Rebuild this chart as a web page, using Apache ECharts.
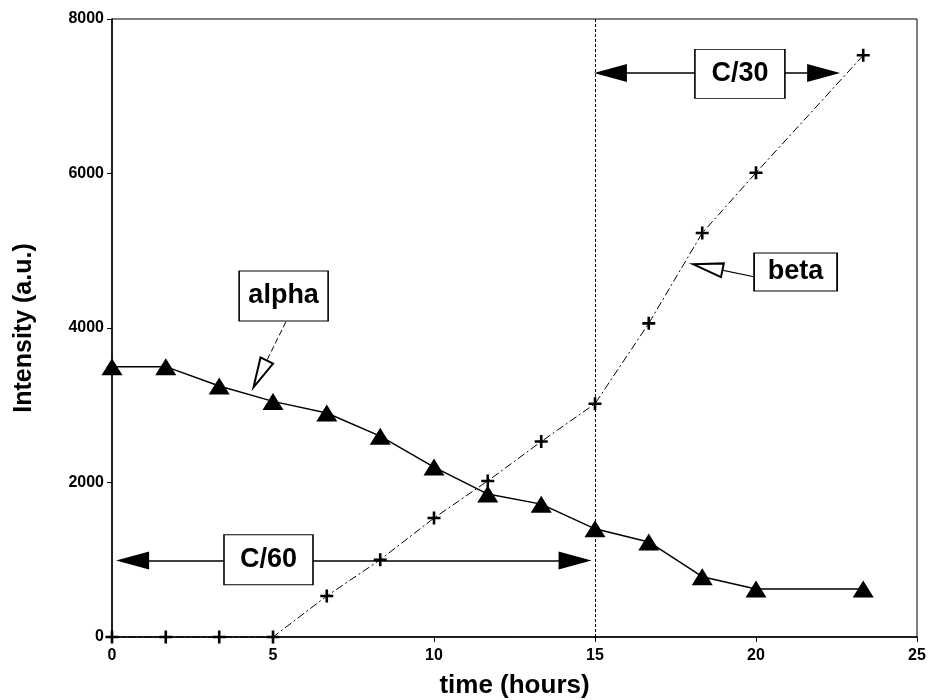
<!DOCTYPE html>
<html>
<head>
<meta charset="utf-8">
<script src="https://cdn.jsdelivr.net/npm/echarts@6/dist/echarts.min.js"></script>
<style>
  html, body { margin: 0; padding: 0; background: #fff; }
  #chart { width: 930px; height: 700px; }
</style>
</head>
<body>
<div id="chart"></div>
<script>
// time axis (hours), one sample every 1/0.6 h
var times = [0, 1.67, 3.33, 5, 6.67, 8.33, 10, 11.67, 13.33, 15, 16.67, 18.33, 20, 23.33]
var alphaVals = [3500, 3500, 3250, 3050, 2900, 2600, 2200, 1850, 1720, 1400, 1230, 780, 620, 620]
var betaVals = [0, 0, 0, 0, 530, 1000, 1540, 2020, 2530, 3020, 4060, 5230, 6010, 7530]

var xTicks = [0, 5, 10, 15, 20, 25]
var yTicks = [0, 2000, 4000, 6000, 8000]
var switchTime = 15 // rate change C/60 -> C/30

// annotation boxes: [x, y, label]
var boxes = [
  [4.86, 1000, 'C/60'],
  [19.5, 7290, 'C/30'],
  [5.33, 4414, 'alpha'],
  [21.23, 4725, 'beta']
]
var boxSizes = [[89, 50], [90, 49], [89, 50], [83, 38]]

// double arrows (rate ranges): [x1, y1, x2, y2]
var rateArrows = [
  [0.64, 990, 14.38, 990],
  [15.48, 7300, 22.1, 7300]
]
// callout arrows from label box to curve: [x1, y1, x2, y2]
var calloutAlpha = [5.40, 4078, 4.60, 3405]
var calloutBeta = [19.97, 4660, 18.50, 4787]

var font = '"Liberation Sans", Arial, sans-serif'

function pairs (xs, ys) {
  return xs.map(function (x, i) { return [x, ys[i]] })
}

var chart = echarts.init(document.getElementById('chart'))
var option = {
  animation: false,
  textStyle: { fontFamily: font, color: '#000' },
  grid: {
    left: 112, right: 13, top: 19, bottom: 63,
    outerBoundsMode: 'none',
    show: true, borderColor: '#000', borderWidth: 1
  },
  xAxis: {
    type: 'value',
    min: xTicks[0], max: xTicks[xTicks.length - 1], interval: 5,
    name: 'time (hours)',
    nameLocation: 'middle',
    nameGap: 36,
    nameTextStyle: { fontSize: 26, fontWeight: 'bold', color: '#000', fontFamily: font },
    axisLine: { lineStyle: { color: '#000', width: 1.5 } },
    axisTick: { show: true, length: 5, lineStyle: { color: '#000' } },
    axisLabel: { fontSize: 16, fontWeight: 'bold', color: '#000', margin: 11 },
    splitLine: { show: false }
  },
  yAxis: {
    type: 'value',
    min: yTicks[0], max: yTicks[yTicks.length - 1], interval: 2000,
    name: 'Intensity (a.u.)',
    nameLocation: 'middle',
    nameRotate: 90,
    nameGap: 75,
    nameTextStyle: { fontSize: 25, fontWeight: 'bold', color: '#000', fontFamily: font },
    axisLine: { show: true, lineStyle: { color: '#000', width: 1.5 } },
    axisTick: { show: true, length: 5, lineStyle: { color: '#000' } },
    axisLabel: {
      fontSize: 16, fontWeight: 'bold', color: '#000', margin: 8,
      formatter: function (v) { return String(v) }
    },
    splitLine: { show: false }
  },
  series: [
    {
      name: 'alpha',
      type: 'line',
      data: pairs(times, alphaVals),
      symbol: 'triangle',
      symbolSize: [21, 17],
      clip: false,
      itemStyle: { color: '#000' },
      lineStyle: { color: '#000', width: 1.5 },
      z: 3
    },
    {
      name: 'beta',
      type: 'line',
      data: pairs(times, betaVals),
      symbol: 'path://M4,0H6V4H10V6H6V10H4V6H0V4H4Z',
      symbolSize: 13,
      clip: false,
      itemStyle: { color: '#000' },
      lineStyle: { color: '#000', width: 1, type: [8, 3, 2, 3] },
      markLine: {
        silent: true,
        symbol: 'none',
        label: { show: false },
        lineStyle: { color: '#000', width: 1, type: [3, 2] },
        data: [{ xAxis: switchTime }]
      },
      z: 3
    },
    {
      name: 'rates',
      type: 'line',
      data: [],
      markLine: {
        silent: true,
        symbol: ['triangle', 'triangle'],
        symbolSize: [18, 33],
        label: { show: false },
        lineStyle: { color: '#000', width: 1.5, type: 'solid' },
        data: rateArrows.map(function (a) {
          return [{ coord: [a[0], a[1]] }, { coord: [a[2], a[3]] }]
        })
      }
    },
    {
      name: 'callouts',
      type: 'line',
      data: [],
      markLine: {
        silent: true,
        symbol: ['none', 'emptyTriangle'],
        symbolSize: [14, 30],
        label: { show: false },
        data: [
          [
            { coord: [calloutAlpha[0], calloutAlpha[1]], lineStyle: { color: '#000', width: 1, type: [6, 3] } },
            { coord: [calloutAlpha[2], calloutAlpha[3]] }
          ],
          [
            { coord: [calloutBeta[0], calloutBeta[1]], lineStyle: { color: '#000', width: 1.2, type: 'solid' } },
            { coord: [calloutBeta[2], calloutBeta[3]] }
          ]
        ]
      }
    },
    {
      name: 'boxes',
      type: 'scatter',
      symbol: 'rect',
      clip: false,
      z: 10,
      data: boxes.map(function (b, i) {
        return { value: [b[0], b[1]], name: b[2], symbolSize: boxSizes[i] }
      }),
      itemStyle: { color: '#fff', borderColor: '#000', borderWidth: 1.2, opacity: 1 },
      label: {
        show: true,
        position: 'inside',
        formatter: '{b}',
        fontSize: 27,
        fontWeight: 'bold',
        color: '#000',
        fontFamily: font
      }
    }
  ]
}
chart.setOption(option)
</script>
</body>
</html>
